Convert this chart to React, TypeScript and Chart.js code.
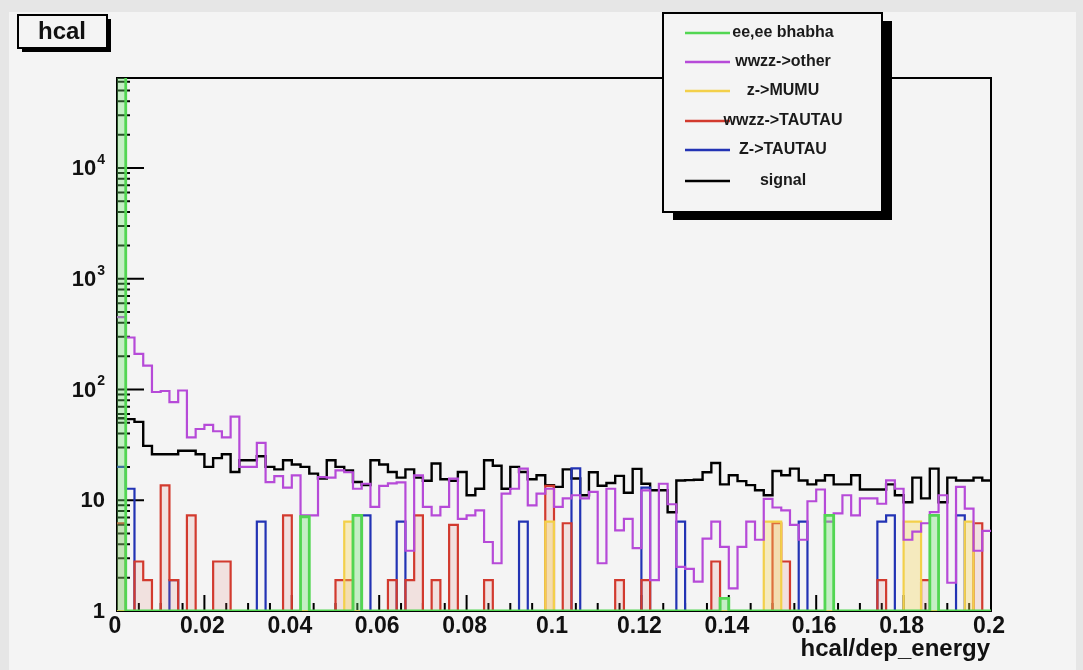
import React, { useEffect, useRef } from "react";
import { Chart, registerables } from "chart.js";

Chart.register(...registerables);

// Histogram binning: 100 bins of 0.002 over [0, 0.2]
const X_MIN = 0;
const X_MAX = 0.2;
const BIN_WIDTH = 0.002;
const Y_MIN = 1;
const Y_MAX = 65000;

const X_TICK_VALUES = [0, 0.02, 0.04, 0.06, 0.08, 0.1, 0.12, 0.14, 0.16, 0.18, 0.2];
const X_TICK_LABELS = ["0", "0.02", "0.04", "0.06", "0.08", "0.1", "0.12", "0.14", "0.16", "0.18", "0.2"];
const X_MINOR_STEP = 0.005;
const Y_DECADES = [0, 1, 2, 3, 4];

const SERIES_NAMES = ["ee,ee bhabha", "wwzz->other", "z->MUMU", "wwzz->TAUTAU", "Z->TAUTAU", "signal"];
const SERIES_COLORS = ["#52d652", "#b64ad8", "#f3d04a", "#d23a2e", "#2233b4", "#000000"];

// Bin contents, bins 0..99
const EE_BHABHA = [
  150000, 0, 0, 0, 0, 0, 0, 0, 0, 0,
  0, 0, 0, 0, 0, 0, 0, 0, 0, 0,
  0, 7.1, 0, 0, 0, 0, 0, 7.3, 0, 0,
  0, 0, 0, 0, 0, 0, 0, 0, 0, 0,
  0, 0, 0, 0, 0, 0, 0, 0, 0, 0,
  0, 0, 0, 0, 0, 0, 0, 0, 0, 0,
  0, 0, 0, 0, 0, 0, 0, 0, 0, 1.3,
  0, 0, 0, 0, 0, 0, 0, 0, 0, 0,
  0, 7.3, 0, 0, 0, 0, 0, 0, 0, 0,
  0, 0, 0, 7.3, 0, 0, 0, 0, 0, 0,
];

const WWZZ_OTHER = [
  450, 295, 210, 164, 95, 97, 77, 98, 37, 44,
  48, 42, 37, 57, 20, 20, 33, 14.6, 16.5, 13,
  16.8, 7.3, 7.3, 16.2, 16, 18.6, 17.9, 12.7, 14.1, 8.7,
  13.5, 14.2, 14.5, 3.5, 16.8, 8.7, 7.3, 8.7, 15.7, 6.8,
  7.3, 8.1, 4.2, 2.7, 11.5, 12.7, 19.3, 9, 11.5, 12.7,
  8.7, 10.4, 11.1, 10.4, 11.9, 2.7, 12.7, 5.35, 6.8, 3.7,
  12.3, 1.9, 14.1, 9.2, 2.5, 2.4, 1.84, 4.5, 6.4, 3.8,
  1.6, 3.8, 6.4, 4.4, 10.3, 8.6, 8.1, 6, 4.4, 9.8,
  12.5, 6.4, 7.6, 11.1, 7.3, 10.4, 10.4, 9.3, 15.1, 12.7,
  4.4, 5.2, 6.2, 7.8, 11.1, 1.8, 13.2, 8.4, 3.5, 5.3,
];

const Z_MUMU = [
  0, 0, 0, 0, 0, 0, 0, 0, 0, 0,
  0, 0, 0, 0, 0, 0, 0, 0, 0, 0,
  0, 0, 0, 0, 0, 0, 6.4, 0, 0, 0,
  0, 0, 0, 0, 0, 0, 0, 0, 0, 0,
  0, 0, 0, 0, 0, 0, 0, 0, 0, 6.4,
  0, 0, 0, 0, 0, 0, 0, 0, 0, 0,
  0, 0, 0, 0, 0, 0, 0, 0, 0, 0,
  0, 0, 0, 0, 6.4, 6.4, 0, 0, 0, 0,
  0, 0, 0, 0, 0, 0, 0, 0, 0, 0,
  6.4, 6.4, 0, 0, 0, 0, 0, 6.4, 0, 0,
];

const WWZZ_TAUTAU = [
  6.2, 0, 2.8, 1.9, 0, 13.6, 1.9, 0, 7.3, 0,
  0, 2.8, 2.8, 0, 0, 0, 0, 0, 0, 7.3,
  0, 0, 0, 0, 0, 1.9, 1.9, 0, 0, 0,
  0, 1.9, 0, 1.9, 7.3, 0, 1.9, 0, 6, 0,
  0, 0, 1.9, 0, 0, 0, 0, 0, 0, 13.5,
  0, 6.2, 0, 0, 0, 0, 0, 1.9, 0, 0,
  1.9, 0, 0, 0, 0, 0, 0, 0, 2.8, 0,
  0, 0, 0, 0, 0, 6.2, 2.8, 0, 0, 0,
  0, 0, 0, 0, 0, 0, 0, 1.9, 0, 0,
  0, 0, 1.9, 0, 0, 0, 0, 0, 6.2, 0,
];

const Z_TAUTAU = [
  20, 12.7, 0, 0, 0, 0, 1.9, 0, 0, 0,
  0, 0, 0, 0, 0, 0, 6.4, 0, 0, 0,
  0, 0, 0, 0, 0, 0, 0, 0, 7.3, 0,
  0, 0, 6.4, 0, 0, 0, 0, 0, 0, 0,
  0, 0, 0, 0, 0, 0, 6.4, 0, 0, 0,
  0, 0, 19.4, 0, 0, 0, 0, 0, 0, 0,
  13, 0, 0, 0, 6.4, 0, 0, 0, 0, 0,
  0, 0, 0, 0, 0, 0, 0, 0, 6.4, 0,
  0, 0, 0, 0, 0, 0, 0, 6.4, 7.3, 0,
  0, 0, 0, 0, 0, 0, 7.3, 0, 0, 0,
];

const SIGNAL = [
  55, 54, 51, 31, 26, 26, 26, 28, 28, 26,
  20, 24, 26, 18, 23, 23, 25, 20, 19, 23,
  21, 20, 17.4, 15.7, 23, 20, 18.6, 14.6, 13.7, 23,
  21, 18, 16, 19, 16, 15, 21.5, 15.5, 15, 18,
  11.1, 12.7, 23, 20.5, 12.7, 20, 18, 15.5, 16.8, 13.7,
  13.2, 19, 15.7, 11.1, 17.9, 13.5, 14.3, 16.6, 11.7, 19.2,
  14.1, 12.3, 12.3, 7.8, 15.1, 15.2, 15.3, 17.9, 21.7, 13.9,
  16.8, 14.9, 13.7, 12.3, 11.1, 18.4, 16.8, 19.3, 15.1, 13.9,
  15.1, 16.8, 13.9, 13.9, 16.8, 12.5, 12.5, 12.5, 13.9, 11.1,
  9.6, 16, 10.4, 19.3, 9.6, 16, 15.1, 15.1, 16, 15.1,
];

const SERIES_VALUES = [EE_BHABHA, WWZZ_OTHER, Z_MUMU, WWZZ_TAUTAU, Z_TAUTAU, SIGNAL];
// light tint inside the narrow spikes
const SERIES_FILLS = [
  "rgba(110,225,110,0.35)",
  null,
  "rgba(245,215,90,0.35)",
  "rgba(225,120,110,0.15)",
  null,
  null,
];
const SERIES_WIDTHS = [2.8, 2.2, 2.2, 2.2, 2.2, 2.4];

const FONT = '"Liberation Sans", Arial, Helvetica, sans-serif';
const PAGE_BG = "#e6e6e6";
const PAD_BG = "#f4f4f4";

function histPoints(values: number[]) {
  const pts = values.map((v, i) => ({ x: X_MIN + i * BIN_WIDTH, y: Math.max(v, Y_MIN) }));
  pts.push({ x: X_MAX, y: Math.max(values[values.length - 1], Y_MIN) });
  return pts;
}

const rootStyle = {
  id: "rootStyle",
  beforeDraw(chart: any) {
    const ctx = chart.ctx;
    ctx.save();
    ctx.fillStyle = PAGE_BG;
    ctx.fillRect(0, 0, chart.width, chart.height);
    ctx.fillStyle = PAD_BG;
    ctx.fillRect(9, 12, 1067, chart.height - 12);
    ctx.restore();
  },
  beforeDatasetsDraw(chart: any) {
    const ctx = chart.ctx;
    const { left, right, top, bottom } = chart.chartArea;
    const xs = chart.scales.x;
    const ys = chart.scales.y;
    ctx.save();
    ctx.strokeStyle = "#000";
    ctx.lineWidth = 2;
    ctx.strokeRect(left, top, right - left, bottom - top);
    // x ticks, pointing into the frame
    ctx.beginPath();
    const nMinor = Math.round((X_MAX - X_MIN) / X_MINOR_STEP);
    for (let k = 0; k <= nMinor; k++) {
      const v = X_MIN + k * X_MINOR_STEP;
      const px = xs.getPixelForValue(v);
      const len = k % 4 === 0 ? 16 : 8;
      ctx.moveTo(px, bottom);
      ctx.lineTo(px, bottom - len);
    }
    // y ticks on log axis
    for (const e of Y_DECADES) {
      for (let m = 1; m <= 9; m++) {
        const v = m * Math.pow(10, e);
        if (v > Y_MAX) break;
        const py = ys.getPixelForValue(v);
        const len = m === 1 ? 27 : 13;
        ctx.moveTo(left, py);
        ctx.lineTo(left + len, py);
      }
    }
    ctx.stroke();
    ctx.restore();
  },
  afterDraw(chart: any) {
    const ctx = chart.ctx;
    const { left, right, bottom } = chart.chartArea;
    const xs = chart.scales.x;
    const ys = chart.scales.y;
    ctx.save();
    ctx.fillStyle = "#111";
    // x tick labels
    ctx.font = `bold 23px ${FONT}`;
    ctx.textAlign = "center";
    ctx.textBaseline = "alphabetic";
    X_TICK_VALUES.forEach((v, i) => {
      ctx.fillText(X_TICK_LABELS[i], xs.getPixelForValue(v) - 2, bottom + 22);
    });
    // x title
    ctx.font = `bold 24px ${FONT}`;
    ctx.textAlign = "right";
    ctx.fillText("hcal/dep_energy", right - 1, bottom + 45);
    // y tick labels: 1, 10, 10^n
    const labelRight = left - 12;
    for (const e of Y_DECADES) {
      const py = ys.getPixelForValue(Math.pow(10, e));
      ctx.textBaseline = "middle";
      if (e === 0 || e === 1) {
        ctx.font = `bold 22px ${FONT}`;
        ctx.textAlign = "right";
        ctx.fillText(e === 0 ? "1" : "10", labelRight, py + 1);
      } else {
        ctx.font = `bold 14px ${FONT}`;
        const sup = String(e);
        const supW = ctx.measureText(sup).width;
        ctx.textAlign = "left";
        ctx.fillText(sup, labelRight - supW, py - 8);
        ctx.font = `bold 22px ${FONT}`;
        ctx.textAlign = "right";
        ctx.fillText("10", labelRight - supW - 1, py + 1);
      }
    }
    // title box
    ctx.fillStyle = "#000";
    ctx.fillRect(22, 19, 89, 33);
    ctx.fillStyle = PAD_BG;
    ctx.fillRect(18, 15, 89, 33);
    ctx.strokeStyle = "#000";
    ctx.lineWidth = 2;
    ctx.strokeRect(18, 15, 89, 33);
    ctx.fillStyle = "#111";
    ctx.font = `bold 24px ${FONT}`;
    ctx.textAlign = "center";
    ctx.textBaseline = "middle";
    ctx.fillText("hcal", 62, 32);
    // legend
    const lx = 663, ly = 13, lw = 219, lh = 199;
    ctx.fillStyle = "#000";
    ctx.fillRect(lx + 10, ly + 8, lw, lh);
    ctx.fillStyle = PAD_BG;
    ctx.fillRect(lx, ly, lw, lh);
    ctx.strokeRect(lx, ly, lw, lh);
    const entryY = [33, 62, 91, 121, 150, 181];
    SERIES_NAMES.forEach((name, i) => {
      const y = entryY[i];
      ctx.strokeStyle = SERIES_COLORS[i];
      ctx.lineWidth = 2.5;
      ctx.beginPath();
      ctx.moveTo(685, y);
      ctx.lineTo(730, y);
      ctx.stroke();
      ctx.fillStyle = "#1a1a1a";
      ctx.font = `bold 16px ${FONT}`;
      ctx.textAlign = "center";
      ctx.textBaseline = "middle";
      ctx.fillText(name, 783, y);
    });
    ctx.restore();
  },
};

export default function App() {
  const canvasRef = useRef<HTMLCanvasElement | null>(null);

  useEffect(() => {
    document.body.style.margin = "0";
    const canvas = canvasRef.current;
    if (!canvas) return;
    const datasets = SERIES_VALUES.map((vals, i) => ({
      label: SERIES_NAMES[i],
      data: histPoints(vals),
      borderColor: SERIES_COLORS[i],
      backgroundColor: SERIES_FILLS[i] || "transparent",
      fill: SERIES_FILLS[i] ? "start" : false,
      borderWidth: SERIES_WIDTHS[i],
      stepped: true,
      pointRadius: 0,
      tension: 0,
    }));
    const chart = new Chart(canvas, {
      type: "line",
      data: { datasets },
      options: {
        animation: false,
        responsive: false,
        devicePixelRatio: 1,
        layout: { padding: { left: 0, right: 92, top: 78, bottom: 0 } },
        plugins: {
          legend: { display: false },
          tooltip: { enabled: false },
          title: { display: false },
        },
        scales: {
          x: {
            type: "linear",
            min: X_MIN,
            max: X_MAX,
            ticks: { display: false },
            grid: { display: false },
            border: { display: false },
            afterFit: (s: any) => {
              s.height = 59;
            },
          },
          y: {
            type: "logarithmic",
            min: Y_MIN,
            max: Y_MAX,
            ticks: { display: false },
            grid: { display: false },
            border: { display: false },
            afterFit: (s: any) => {
              s.width = 117;
            },
          },
        },
      } as any,
      plugins: [rootStyle],
    });
    return () => chart.destroy();
  }, []);

  return (
    <canvas ref={canvasRef} width={1083} height={670} style={{ display: "block" }} />
  );
}
